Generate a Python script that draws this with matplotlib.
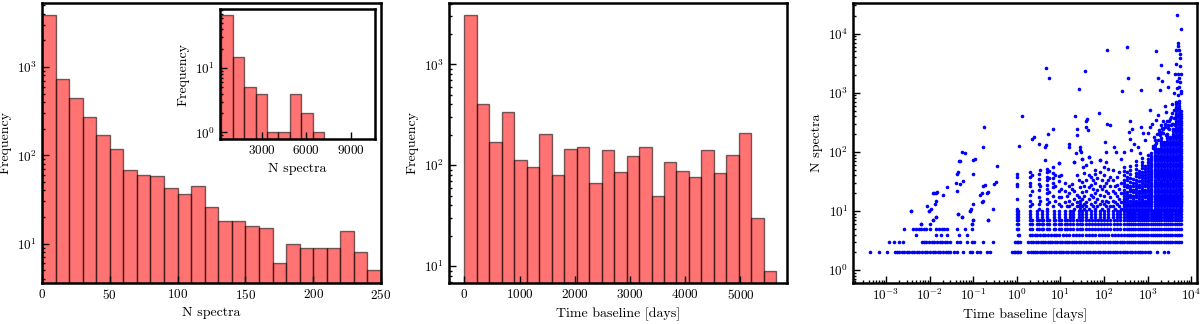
import numpy as np
import matplotlib
matplotlib.use("Agg")
import matplotlib.pyplot as plt
from matplotlib.ticker import LogLocator, NullFormatter

plt.rcParams['font.family'] = ['cmr10', 'DejaVu Serif']
plt.rcParams['mathtext.fontset'] = 'cm'
plt.rcParams['axes.formatter.use_mathtext'] = True
plt.rcParams['font.size'] = 9

# ---- histogram of number of spectra per star (0-250) ----
nspec_edges = [0, 10, 20, 30, 40, 50, 60, 70, 80, 90, 100, 110, 120, 130,
               140, 150, 160, 170, 180, 190, 200, 210, 220, 230, 240, 250]
nspec_counts = [3850, 727, 450, 272, 171, 118, 69, 60, 58, 43, 36, 45, 26,
                18, 18, 16, 15, 6, 10, 9, 9, 9, 14, 8, 5]

# inset: stars with many spectra
big_edges = [300, 1065, 1830, 2595, 3360, 4125, 4890, 5655, 6420, 7185]
big_counts = [67, 15, 5, 4, 1, 1, 4, 2, 1]

# ---- histogram of time baseline ----
tb_edges = [0, 226, 452, 678, 904, 1130, 1356, 1582, 1808, 2034, 2260, 2486,
            2712, 2938, 3164, 3390, 3616, 3842, 4068, 4294, 4520, 4746, 4972,
            5198, 5424, 5650]
tb_counts = [3070, 401, 171, 336, 113, 96, 202, 79, 144, 153, 66, 141, 86,
             122, 151, 49, 107, 87, 77, 142, 84, 125, 210, 30, 9]

# ---- scatter: log10(time baseline) per row of small N spectra ----
n2_logt = [-3.37, -3.16, -2.97, -2.79, -2.74, -2.69, -2.64, -2.58, -2.52, -2.46,
           -2.40, -2.35, -2.29, -2.23, -2.17, -2.11, -2.05, -1.99, -1.93, -1.87,
           -1.81, -1.75, -1.69, -1.63, -1.57, -1.53, -1.44, -1.38, -1.23, -1.07,
           -1.03, -0.92, -0.84, -0.69, -0.61,
           -0.11, -0.07, -0.03, 0.0, 0.04, 0.08,
           0.27, 0.32, 0.37, 0.42, 0.47, 0.53, 0.58, 0.63, 0.68, 0.74, 0.79, 0.85,
           0.90, 0.96, 1.01, 1.07, 1.12, 1.18, 1.24, 1.29, 1.35, 1.41, 1.46, 1.52,
           1.58, 1.63, 1.69, 1.75, 1.80, 1.86, 1.92, 1.97, 2.03, 2.09, 2.14, 2.20,
           2.26, 2.31, 2.37, 2.43, 2.48, 2.54, 2.60, 2.65, 2.71, 2.77, 2.82, 2.88,
           2.94, 3.00, 3.06, 3.22, 3.37, 3.48]
n3_logt = [-2.92, -2.81, -2.70, -2.60, -2.18, -2.13, -2.07, -2.01, -1.95, -1.89,
           -1.83, -1.77, -1.71, -1.65, -1.59, -1.53, -1.38, -1.30, -1.13, -1.03,
           -0.99, -0.77, -0.55,
           -0.04, 0.0, 0.04, 0.08,
           0.27, 0.33, 0.38, 0.44, 0.49, 0.55, 0.60, 0.66, 0.71, 0.77, 0.82, 0.88,
           0.93, 0.99, 1.04, 1.10, 1.15, 1.21, 1.26, 1.32, 1.37, 1.43, 1.48, 1.54,
           1.59, 1.65, 1.70, 1.76, 1.81, 1.87, 1.92, 1.98, 2.03, 2.09, 2.14, 2.20,
           2.25, 2.31, 2.36, 2.42]
n4_logt = [-2.31, -1.84, -1.74, -1.59, -1.32, -1.13,
           0.02, 0.06, 0.30, 0.35, 0.41, 0.47, 0.53, 0.60, 0.66, 0.72, 0.78, 0.85,
           0.91, 0.97, 1.05, 1.12, 1.20, 1.28, 1.35, 1.43, 1.50, 1.58, 1.66, 1.73,
           1.80, 1.88, 1.95, 2.02, 2.10, 2.18, 2.25, 2.33, 2.40]
n5_logt = [-2.58, -2.37, -2.31, -2.25, -2.19, -2.13, -2.07, -2.00, -1.84, -1.78,
           -1.72, -1.66, -1.61, -1.38, -1.19, -1.03]
n6_logt = [-2.20, -2.00, -1.02]
n7_logt = [-1.91, -1.01, -0.67]
n8_logt = [-1.84, -1.26]
n9_logt = [-1.34]
n10_logt = [-2.43, -2.01, -1.08]
# columns shared by the rows N = 5..10
mid_a_logt = [0.0, 0.04, 0.31, 0.35, 0.46, 0.50, 0.57, 0.61, 0.70, 0.74, 0.85,
              0.88, 0.97, 1.01, 1.10, 1.16, 1.22, 1.30, 1.38, 1.45, 1.50, 1.58,
              1.65, 1.72, 1.80, 1.87, 1.93, 2.00, 2.07, 2.15, 2.22, 2.30, 2.38]
mid_b_logt = [0.0, 0.04, 0.31, 0.46, 0.57, 0.70, 0.85, 0.97, 1.10, 1.22, 1.30,
              1.42, 1.50, 1.60, 1.70, 1.80, 1.90, 2.00, 2.10, 2.20, 2.30, 2.38]
# long baselines: rows N = 3..10 are filled
right_logt = [2.47, 2.52, 2.57, 2.62, 2.67, 2.72, 2.77, 2.82, 2.87, 2.92, 2.97,
              3.02, 3.07, 3.12, 3.17, 3.22, 3.27, 3.32, 3.37, 3.42, 3.47, 3.52,
              3.57, 3.62, 3.67, 3.72, 3.77]

# columns of stars with N > 10 at intermediate baselines
mid_logt = [0.0, 0.31, 0.36, 0.50, 0.54, 0.69, 0.74, 0.84, 0.88, 0.97, 1.02, 1.10,
            1.16, 1.21, 1.26, 1.32, 1.38, 1.42, 1.46, 1.50, 1.55, 1.60, 1.65,
            1.70, 1.75, 1.80, 1.85, 1.90, 1.95, 2.00, 2.05, 2.10, 2.15, 2.20,
            2.25, 2.30, 2.35, 2.40]
mid_n = [[11, 16, 26, 29, 38, 43], [46, 38, 30, 26, 19, 15, 12], [40, 22, 13],
         [43, 35, 29, 23, 17, 13, 11], [50, 26, 15],
         [52, 45, 38, 33, 28, 24, 20, 16, 13, 11], [47, 36, 21, 14],
         [55, 44, 36, 30, 25, 18, 12], [40, 27, 15], [65, 39, 32, 22, 17, 13],
         [40, 24, 17, 12], [30, 22, 14], [18, 12], [26, 20, 15, 12],
         [29, 24, 13], [68, 22, 16, 11], [40, 19, 14, 12], [33, 17, 12],
         [25, 15, 13, 11], [77, 31, 21, 16, 12], [44, 27, 18, 13, 11],
         [60, 33, 22, 14, 12], [82, 40, 25, 16, 11], [68, 38, 28, 19, 13],
         [33, 24, 17, 12], [50, 43, 30, 20, 14, 11], [36, 23, 16, 12],
         [72, 46, 27, 19, 13], [33, 24, 15, 11], [55, 40, 26, 18, 13],
         [68, 30, 22, 15, 12], [52, 33, 20, 14, 11], [38, 26, 17, 12],
         [49, 33, 22, 15, 12], [26, 20, 14, 11], [38, 28, 18, 13],
         [45, 24, 16, 12], [30, 20, 14, 11]]

# columns of the dense cloud at long baselines
semi_logt = [2.46, 2.53, 2.60, 2.67, 2.74, 2.81, 2.88, 2.95, 3.02]
semi_n = [[11, 12, 13, 14, 15, 16, 18, 20, 23, 26, 30, 34, 40, 47, 55],
          [11, 12, 13, 14, 16, 17, 19, 21, 25, 28, 33, 38, 45],
          [11, 12, 13, 15, 17, 19, 22, 24, 27, 31, 36, 42, 50, 58],
          [11, 12, 13, 14, 16, 18, 21, 23, 26, 30, 35],
          [11, 12, 13, 14, 15, 17, 19, 21, 24, 27, 30, 34, 39, 44, 52, 61, 70],
          [11, 12, 13, 14, 16, 18, 20, 22, 25, 28, 32, 37, 43, 48],
          [11, 12, 13, 14, 15, 16, 18, 20, 22, 24, 27, 30, 33, 37, 41, 46, 53,
           60, 68, 80],
          [11, 12, 13, 14, 15, 17, 19, 21, 23, 26, 29, 32, 36, 40, 45, 51, 58],
          [11, 12, 13, 14, 15, 16, 17, 19, 21, 23, 25, 28, 31, 34, 38, 42, 47,
           53, 60, 68, 77, 88]]
ladder_a = [11, 12, 13, 14, 15, 16, 17, 18, 19, 20, 22, 24, 26, 28, 30, 33, 36,
            39, 42, 46, 50, 55, 60, 66, 72, 79, 86, 94, 103, 113, 124, 136, 149,
            163, 178, 195, 213, 233, 255, 280, 306, 335, 367, 402, 440, 482, 528,
            578, 633, 693, 759]
ladder_b = [11, 12, 13, 14, 15, 16, 17, 18, 19, 21, 23, 25, 27, 29, 31, 34, 37,
            41, 44, 48, 52, 57, 63, 69, 75, 82, 90, 98, 108, 118, 130, 142, 155,
            170, 186, 204, 223, 244, 267, 293, 320, 350, 385, 420, 460, 505, 553,
            605, 663, 726]
blob_logt = [3.09, 3.16, 3.23, 3.30, 3.37, 3.44, 3.51, 3.58, 3.65, 3.72, 3.77]
blob_top = [95, 140, 115, 175, 150, 215, 185, 250, 700, 760, 520]

# isolated stars
sparse_logt = [-2.43, -2.20, -2.05, -2.01, -1.97, -1.93, -1.89, -1.85, -1.82,
               -1.84, -1.88, -1.84, -1.91, -1.68, -1.59, -1.40, -1.38, -1.34,
               -1.32, -1.29, -1.36, -1.29, -1.26, -1.19, -1.24, -1.34, -1.26,
               -1.08, -1.05, -1.00, -0.96, -1.00, -1.00, -1.01, -1.02, -0.84,
               -0.80, -0.77, -0.73, -0.80, -0.78, -0.67, -0.69, -0.78, -0.74,
               -0.67, -0.54, -0.51, -0.47, -0.46,
               0.12, 0.06, 0.34, 0.40, 0.50, 0.64, 0.67, 0.65, 0.71, 0.67, 0.73,
               0.83, 0.98, 1.19, 1.21, 1.32, 1.35, 1.34, 1.38, 1.38, 1.42, 1.44,
               1.45, 1.47, 1.49, 1.53, 1.59, 1.62, 1.60, 1.63, 1.66, 1.88, 1.91,
               2.03, 2.04, 2.07, 2.22, 2.28, 2.08, 2.13, 1.57, 2.42, 2.53, 2.55,
               2.60, 2.57, 2.59, 2.62, 2.64, 2.68, 2.40, 2.45, 2.95, 3.00, 2.78,
               2.82, 3.05, 3.06, 2.90, 2.86, 3.10, 3.20, 3.25, 3.30, 3.35, 3.43,
               3.54, 3.46, 3.40, 3.50, 3.58, 3.62, 3.60,
               3.12, 3.14, 3.18, 3.21, 3.26, 3.28, 3.33, 3.35, 3.39, 3.41, 3.45,
               3.48, 3.52, 3.55, 3.57, 3.60, 3.56, 3.13, 3.19, 3.27, 3.36, 3.49,
               3.53, 3.42, 3.31, 3.24, 3.61,
               3.68, 3.76, 3.70, 3.71, 3.65, 3.72, 3.74, 3.75, 3.66, 3.75, 3.63,
               3.71, 3.77, 3.72, 3.67, 3.74, 3.67, 3.73, 3.76, 3.77, 3.70,
               3.20, 3.31, 3.46, 3.24, 3.33, 3.29, 3.46, 2.86]
sparse_n = [10, 6, 12, 10, 11, 20, 20, 20, 21,
            15, 13, 8, 7, 19, 25, 30, 43, 46,
            70, 70, 22, 29, 100, 94, 32, 9, 8,
            10, 11, 72, 77, 43, 13, 7, 6, 19,
            20, 26, 28, 14, 15, 21, 20, 120, 265,
            7, 11, 29, 31, 57,
            400, 125, 168, 175, 138, 121, 133, 72, 204, 2630, 1780,
            248, 65, 138, 120, 68, 94, 400, 240, 190, 1170, 120,
            107, 100, 77, 56, 265, 366, 330, 230, 82, 457, 72,
            148, 100, 300, 120, 100, 5200, 290, 2300, 1060, 5900, 1780,
            330, 218, 168, 107, 240, 138, 77, 100, 157, 205, 120,
            95, 265, 506, 205, 265, 300, 350, 420, 280, 330, 470,
            390, 250, 600, 330, 300, 290, 1000,
            125, 180, 160, 200, 230, 190, 250, 210, 300, 260, 330,
            280, 360, 300, 450, 520, 650, 115, 140, 205, 240, 240,
            290, 190, 215, 160, 380,
            20400, 12000, 6900, 6200, 5200, 5200, 4600, 3800, 3100, 2800, 2100,
            2100, 2100, 1740, 1600, 1500, 1180, 1250, 1050, 980, 900,
            5000, 2900, 2250, 1740, 1600, 1130, 1230, 1100]

# collect scatter points
pts_logt, pts_n = [], []
rows = [(2, n2_logt), (3, n3_logt + right_logt), (4, n4_logt + right_logt),
        (5, n5_logt + mid_a_logt + right_logt), (6, n6_logt + mid_a_logt + right_logt),
        (7, n7_logt + mid_a_logt + right_logt), (8, n8_logt + mid_b_logt + right_logt),
        (9, n9_logt + mid_b_logt + right_logt), (10, n10_logt + mid_b_logt + right_logt)]
for n, lts in rows:
    pts_logt += lts
    pts_n += [n] * len(lts)
for lt, ns in zip(mid_logt + semi_logt, mid_n + semi_n):
    pts_logt += [lt] * len(ns)
    pts_n += ns
for i, (lt, top) in enumerate(zip(blob_logt, blob_top)):
    ladder = ladder_a if i % 2 == 0 else ladder_b
    ns = [v for v in ladder if v <= top]
    pts_logt += [lt] * len(ns)
    pts_n += ns
pts_logt += sparse_logt
pts_n += sparse_n
baseline = 10 ** np.array(pts_logt)
nspectra = np.array(pts_n)

fig = plt.figure(figsize=(12, 3.24), dpi=100)
ax1 = fig.add_axes([0.035, 0.127, 0.2825, 0.864])
ax2 = fig.add_axes([0.374, 0.127, 0.2817, 0.864])
ax3 = fig.add_axes([0.711, 0.127, 0.2867, 0.864])
axin = fig.add_axes([0.1833, 0.571, 0.129, 0.401])

hist_style = dict(align='edge', color='red', alpha=0.55, edgecolor='black', linewidth=1)


def style(ax):
    for sp in ax.spines.values():
        sp.set_linewidth(1.8)
    ax.tick_params(which='both', direction='in', top=False, right=False,
                   labelsize=9.5, width=1)
    ax.tick_params(which='major', length=5)
    ax.tick_params(which='minor', length=2.5)


ax1.set_yscale('log')
ax1.bar(nspec_edges[:-1], nspec_counts, width=np.diff(nspec_edges), **hist_style)
ax1.set_xlim(0, 250)
ax1.set_ylim(3.6, 5300)
ax1.set_xticks([0, 50, 100, 150, 200, 250])
ax1.set_xlabel('N spectra', fontsize=10)
ax1.set_ylabel('Frequency', fontsize=10)
style(ax1)

axin.set_yscale('log')
axin.bar(big_edges[:-1], big_counts, width=np.diff(big_edges), **hist_style)
axin.set_xlim(200, 10600)
axin.set_ylim(0.79, 83)
axin.set_xticks([3000, 6000, 9000])
axin.set_xlabel('N spectra', fontsize=10)
axin.set_ylabel('Frequency', fontsize=10)
style(axin)

ax2.set_yscale('log')
ax2.bar(tb_edges[:-1], tb_counts, width=np.diff(tb_edges), **hist_style)
ax2.set_xlim(-280, 5840)
ax2.set_ylim(6.8, 4070)
ax2.set_xticks([0, 1000, 2000, 3000, 4000, 5000])
ax2.set_xlabel('Time baseline [days]', fontsize=10)
ax2.set_ylabel('Frequency', fontsize=10)
style(ax2)

ax3.plot(baseline, nspectra, 'o', color='blue', ms=2.6, mew=0)
ax3.set_xscale('log')
ax3.set_yscale('log')
ax3.set_xlim(10 ** -3.75, 10 ** 4.14)
ax3.set_ylim(0.61, 3.3e4)
ax3.xaxis.set_major_locator(LogLocator(base=10, numticks=20))
ax3.xaxis.set_minor_locator(LogLocator(base=10, subs=np.arange(2, 10), numticks=20))
ax3.xaxis.set_minor_formatter(NullFormatter())
ax3.set_xlabel('Time baseline [days]', fontsize=10)
ax3.set_ylabel('N spectra', fontsize=10)
style(ax3)

fig.savefig('out.png', dpi=100)
